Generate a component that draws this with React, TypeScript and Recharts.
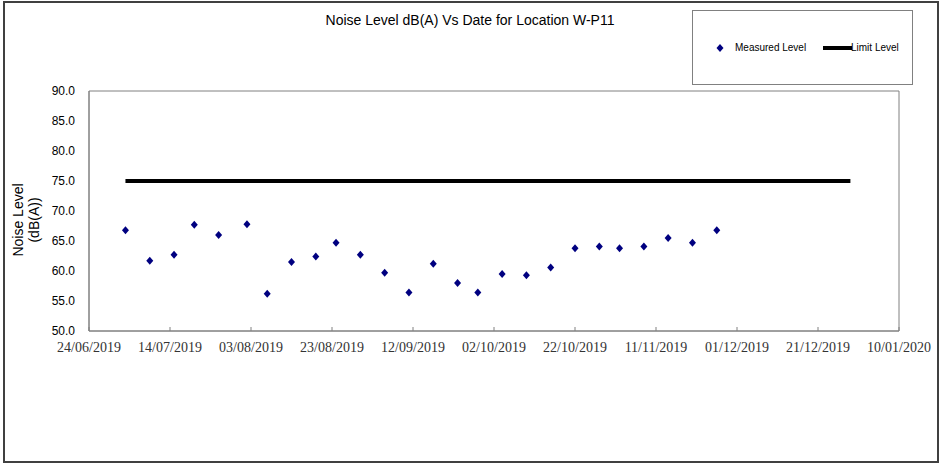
import React from 'react';
import { ComposedChart, Scatter, Line, XAxis, YAxis, ReferenceArea } from 'recharts';

const measuredDates = [
  '03/07/2019', '09/07/2019', '15/07/2019', '20/07/2019', '26/07/2019', '02/08/2019',
  '07/08/2019', '13/08/2019', '19/08/2019', '24/08/2019', '30/08/2019', '05/09/2019',
  '11/09/2019', '17/09/2019', '23/09/2019', '28/09/2019', '04/10/2019', '10/10/2019',
  '16/10/2019', '22/10/2019', '28/10/2019', '02/11/2019', '08/11/2019', '14/11/2019',
  '20/11/2019', '26/11/2019',
];
const measuredLevels = [
  66.8, 61.7, 62.7, 67.7, 66.0, 67.8, 56.2, 61.5, 62.4, 64.7, 62.7, 59.7, 56.4,
  61.2, 58.0, 56.4, 59.5, 59.3, 60.6, 63.8, 64.1, 63.8, 64.1, 65.5, 64.7, 66.8,
];

const limitDates = ['03/07/2019', '29/12/2019'];
const limitLevels = [75, 75];

const xTickLabels = [
  '24/06/2019', '14/07/2019', '03/08/2019', '23/08/2019', '12/09/2019', '02/10/2019',
  '22/10/2019', '11/11/2019', '01/12/2019', '21/12/2019', '10/01/2020',
];
const yTicks = [50, 55, 60, 65, 70, 75, 80, 85, 90];

const toUtc = (s: string) => {
  const [d, m, y] = s.split('/').map(Number);
  return Date.UTC(y, m - 1, d);
};
const origin = toUtc(xTickLabels[0]);
const dayOf = (s: string) => Math.round((toUtc(s) - origin) / 86400000);

const measuredData = measuredDates.map((d, i) => ({ day: dayOf(d), level: measuredLevels[i] }));
const limitData = limitDates.map((d, i) => ({ day: dayOf(d), limit: limitLevels[i] }));
const xTicks = xTickLabels.map(dayOf);
const labelFor: Record<number, string> = {};
xTickLabels.forEach(l => { labelFor[dayOf(l)] = l; });

const NAVY = '#000080';
const GRID = '#808080';
const SANS = 'Arial, Liberation Sans, sans-serif';

const Diamond = (props: any) => {
  const { cx, cy } = props;
  if (cx == null || cy == null) return null;
  return <polygon points={`${cx},${cy - 4} ${cx + 3.5},${cy} ${cx},${cy + 4} ${cx - 3.5},${cy}`} fill={NAVY} />;
};

const XTick = (props: any) => {
  const { x, y, payload } = props;
  return (
    <g>
      <line x1={x} x2={x} y1={y} y2={y - 4} stroke={GRID} />
      <text x={x} y={y + 21} textAnchor="middle" fontFamily="Times New Roman" fontSize={14} fill="#333">
        {labelFor[payload.value]}
      </text>
    </g>
  );
};

export default function App() {
  return (
    <div style={{ position: 'absolute', left: 0, top: 0, width: 945, height: 466, background: '#fff' }}>
      <div style={{ position: 'absolute', left: 3, top: 1, width: 932, height: 458, border: '2px solid #404040' }} />
      <div style={{ position: 'absolute', left: 0, top: 12, width: 940, textAlign: 'center', fontFamily: SANS, fontSize: 14, color: '#000' }}>
        Noise Level dB(A) Vs Date for Location W-P11
      </div>
      <div style={{ position: 'absolute', left: 26, top: 220, width: 0, height: 0 }}>
        <div style={{ position: 'absolute', transform: 'translate(-50%, -50%) rotate(-90deg)', textAlign: 'center', whiteSpace: 'nowrap', fontFamily: SANS, fontSize: 14, lineHeight: '16px', color: '#000' }}>
          Noise Level<br />(dB(A))
        </div>
      </div>
      {/* legend box */}
      <div style={{ position: 'absolute', left: 692, top: 10, width: 221, height: 75, border: '1px solid #808080', boxSizing: 'border-box', fontFamily: SANS, fontSize: 10, color: '#000' }}>
        <svg width={10} height={10} style={{ position: 'absolute', left: 22, top: 32 }}>
          <polygon points="5,1 8.5,5 5,9 1.5,5" fill={NAVY} />
        </svg>
        <span style={{ position: 'absolute', left: 42, top: 31 }}>Measured Level</span>
        <div style={{ position: 'absolute', left: 130, top: 35, width: 29, height: 4, background: '#000' }} />
        <span style={{ position: 'absolute', left: 158, top: 31 }}>Limit Level</span>
      </div>
      <ComposedChart width={945} height={466} margin={{ top: 91, right: 46, bottom: 0, left: 0 }} style={{ position: 'absolute', left: 0, top: 0 }}>
        <ReferenceArea x1={0} x2={200} y1={50} y2={90} fill="none" stroke={GRID} strokeWidth={1} ifOverflow="visible" />
        <XAxis
          type="number"
          dataKey="day"
          domain={[0, 200]}
          ticks={xTicks}
          interval={0}
          tick={<XTick />}
          tickLine={false}
          tickSize={0}
          tickMargin={0}
          axisLine={{ stroke: GRID }}
          height={135}
          allowDataOverflow
        />
        <YAxis
          type="number"
          domain={[50, 90]}
          ticks={yTicks}
          interval={0}
          width={89}
          tickFormatter={(v: number) => v.toFixed(1)}
          tick={{ fontFamily: SANS, fontSize: 12, fill: '#000' }}
          tickLine={false}
          tickSize={4}
          tickMargin={10}
          axisLine={{ stroke: GRID }}
          allowDataOverflow
        />
        <Line data={limitData} dataKey="limit" name="Limit Level" stroke="#000" strokeWidth={4} dot={false} isAnimationActive={false} />
        <Scatter data={measuredData} dataKey="level" name="Measured Level" shape={<Diamond />} isAnimationActive={false} />
      </ComposedChart>
    </div>
  );
}
